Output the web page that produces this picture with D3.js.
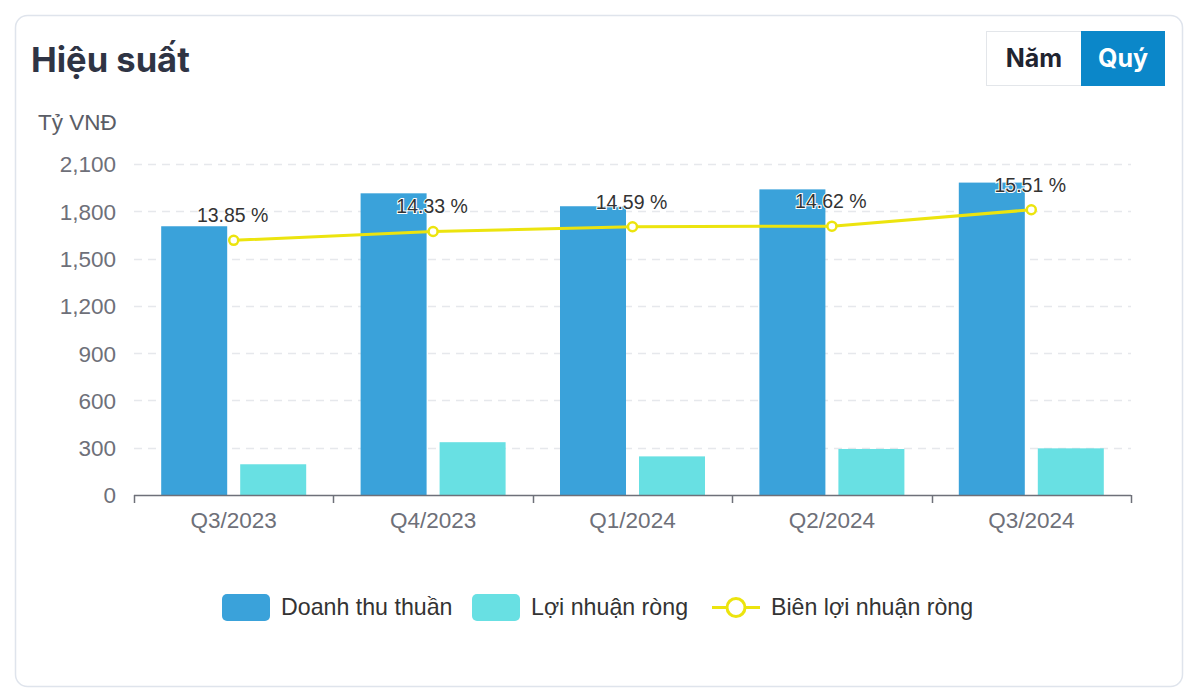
<!DOCTYPE html>
<html>
<head>
<meta charset="utf-8">
<script src="https://cdn.jsdelivr.net/npm/d3@7"></script>
<style>
  html, body { margin: 0; padding: 0; background: #ffffff; }
  svg { display: block; }
</style>
</head>
<body>
<svg id="chart" width="1200" height="697"></svg>
<script>
const categories = ["Q3/2023", "Q4/2023", "Q1/2024", "Q2/2024", "Q3/2024"];
const revenue = [1705, 1914, 1832, 1939, 1982];
const netProfit = [195, 335, 245, 292, 296];
const netMargin = [13.85, 14.33, 14.59, 14.62, 15.51];
const yTicks = [0, 300, 600, 900, 1200, 1500, 1800, 2100];
const seriesNames = ["Doanh thu thuần", "Lợi nhuận ròng", "Biên lợi nhuận ròng"];

const FONT = "'Liberation Sans', Arial, sans-serif";
const C_BLUE = "#3aa2da", C_CYAN = "#68e0e3", C_YELLOW = "#ece40e";

const svg = d3.select("#chart");

// Card
svg.append("rect").attr("x", 15.5).attr("y", 15.5).attr("width", 1167).attr("height", 671)
  .attr("rx", 12).attr("fill", "#fff").attr("stroke", "#dfe4ec").attr("stroke-width", 1.5);

// Title
svg.append("text").attr("x", 31).attr("y", 72).text("Hiệu suất")
  .attr("font-family", "Inter, 'Liberation Sans', sans-serif").attr("font-weight", 700)
  .attr("font-size", 34.5).attr("fill", "#2f3444");

// Toggle buttons
svg.append("rect").attr("x", 986.5).attr("y", 31.5).attr("width", 95).attr("height", 54)
  .attr("fill", "#fff").attr("stroke", "#e3e6ea");
svg.append("text").attr("x", 1034).attr("y", 67).attr("text-anchor", "middle").text("Năm")
  .attr("font-family", "Inter, 'Liberation Sans', sans-serif").attr("font-weight", 700)
  .attr("font-size", 25).attr("fill", "#1f2430");
svg.append("rect").attr("x", 1081).attr("y", 31).attr("width", 84).attr("height", 55)
  .attr("fill", "#0b87c9");
svg.append("text").attr("x", 1123).attr("y", 67).attr("text-anchor", "middle").text("Quý")
  .attr("font-family", "Inter, 'Liberation Sans', sans-serif").attr("font-weight", 700)
  .attr("font-size", 25).attr("fill", "#ffffff");

// Unit
svg.append("text").attr("x", 38).attr("y", 130).text("Tỷ VNĐ")
  .attr("font-family", FONT).attr("font-size", 22.5).attr("fill", "#5a5d66");

// Scales
const plot = { left: 134, right: 1131, top: 164, bottom: 495 };
const x = d3.scaleBand().domain(categories).range([plot.left, plot.right]);
const y = d3.scaleLinear().domain([0, 2100]).range([plot.bottom, plot.top]);
const y2 = d3.scaleLinear().domain([0, 18]).range([plot.bottom, plot.top]);
const barW = 66, barGap = 13;

// Grid
svg.append("g").selectAll("line").data(yTicks.filter(d => d > 0)).join("line")
  .attr("x1", plot.left).attr("x2", plot.right)
  .attr("y1", d => Math.round(y(d)) + 0.5).attr("y2", d => Math.round(y(d)) + 0.5)
  .attr("stroke", "#e6e8ec").attr("stroke-width", 1.3).attr("stroke-dasharray", "8,6");

// Y axis labels
const yAxis = d3.axisLeft(y).tickValues(yTicks).tickSize(0).tickPadding(18).tickFormat(d3.format(","));
const gy = svg.append("g").attr("transform", `translate(${plot.left},0)`).call(yAxis);
gy.select(".domain").remove();
gy.selectAll("text").attr("font-family", FONT).attr("font-size", 22.5).attr("fill", "#6e7079")
  .attr("dy", "0.35em");

// Bars
const bx = (c, i) => x(c) + x.bandwidth() / 2 - barW - barGap / 2 + i * (barW + barGap);
svg.append("g").selectAll("rect").data(categories).join("rect")
  .attr("x", c => bx(c, 0)).attr("width", barW)
  .attr("y", (c, i) => y(revenue[i])).attr("height", (c, i) => y(0) - y(revenue[i]))
  .attr("fill", C_BLUE);
svg.append("g").selectAll("rect").data(categories).join("rect")
  .attr("x", c => bx(c, 1)).attr("width", barW)
  .attr("y", (c, i) => y(netProfit[i])).attr("height", (c, i) => y(0) - y(netProfit[i]))
  .attr("fill", C_CYAN);

// X axis
const xAxis = d3.axisBottom(x).tickSize(0).tickPadding(17);
const gx = svg.append("g").attr("transform", `translate(0,${plot.bottom})`).call(xAxis);
gx.select(".domain").attr("stroke", "#6e7079").attr("stroke-width", 1.5)
  .attr("d", `M${plot.left},0.5H${plot.right}`);
gx.selectAll("text").attr("font-family", FONT).attr("font-size", 22.5).attr("fill", "#6e7079");
const boundaries = categories.map(c => x(c)).concat([x.range()[1]]);
gx.selectAll("line.bnd").data(boundaries).join("line").attr("class", "bnd")
  .attr("x1", d => Math.round(d) + 0.5).attr("x2", d => Math.round(d) + 0.5)
  .attr("y1", 0).attr("y2", 8).attr("stroke", "#6e7079").attr("stroke-width", 1.5);

// Line
const cx = c => x(c) + x.bandwidth() / 2;
const line = d3.line().x((d, i) => cx(categories[i])).y(d => y2(d));
svg.append("path").datum(netMargin).attr("d", line).attr("fill", "none")
  .attr("stroke", C_YELLOW).attr("stroke-width", 3);
svg.append("g").selectAll("circle").data(netMargin).join("circle")
  .attr("cx", (d, i) => cx(categories[i])).attr("cy", d => y2(d)).attr("r", 4.5)
  .attr("fill", "#fff").attr("stroke", C_YELLOW).attr("stroke-width", 2.5);
svg.append("g").selectAll("text").data(netMargin).join("text")
  .attr("x", (d, i) => cx(categories[i]) - 1).attr("y", d => y2(d) - 18)
  .attr("text-anchor", "middle").text(d => d.toFixed(2) + " %")
  .attr("font-family", FONT).attr("font-size", 19.5).attr("fill", "#333")
  .attr("stroke", "#fff").attr("stroke-width", 2).attr("paint-order", "stroke");

// Legend
const lg = svg.append("g").attr("font-family", FONT).attr("font-size", 23.2).attr("fill", "#333");
const items = [
  { name: seriesNames[0], type: "bar", color: C_BLUE, x: 222 },
  { name: seriesNames[1], type: "bar", color: C_CYAN, x: 472 },
  { name: seriesNames[2], type: "line", color: C_YELLOW, x: 712 }
];
items.forEach(it => {
  if (it.type === "bar") {
    lg.append("rect").attr("x", it.x).attr("y", 594).attr("width", 48).attr("height", 27)
      .attr("rx", 5).attr("fill", it.color);
  } else {
    lg.append("line").attr("x1", it.x).attr("x2", it.x + 48).attr("y1", 607.5).attr("y2", 607.5)
      .attr("stroke", it.color).attr("stroke-width", 3);
    lg.append("circle").attr("cx", it.x + 24).attr("cy", 607.5).attr("r", 9)
      .attr("fill", "#fff").attr("stroke", it.color).attr("stroke-width", 3);
  }
  lg.append("text").attr("x", it.x + 59).attr("y", 615).text(it.name);
});
</script>
</body>
</html>
